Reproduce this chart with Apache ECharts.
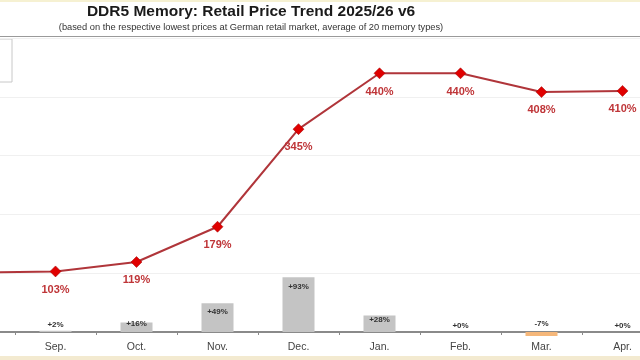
<!DOCTYPE html>
<html>
<head>
<meta charset="utf-8">
<script src="https://cdn.jsdelivr.net/npm/echarts@6/dist/echarts.min.js"></script>
<style>
html,body{margin:0;padding:0;background:#fff;}
#c{width:640px;height:360px;}
</style>
</head>
<body>
<div id="c"></div>
<script>
const months = ['Aug.', 'Sep.', 'Oct.', 'Nov.', 'Dec.', 'Jan.', 'Feb.', 'Mar.', 'Apr.'];
const priceIndex = [101, 103, 119, 179, 345, 440, 440, 408, 410];
const monthlyChange = [null, 2, 16, 49, 93, 28, 0, -7, 0];
const yTicks = [0, 100, 200, 300, 400, 500];

const chart = echarts.init(document.getElementById('c'), null, {renderer: 'canvas'});

const barData = monthlyChange.map(function (v) {
  if (v === null) return null;
  let label;
  if (v >= 40) label = {position: 'insideTop', distance: 5};
  else if (v >= 20) label = {position: 'insideTop', distance: 0};
  else if (v >= 10) label = {position: 'insideTop', distance: -3};
  else if (v < 0) label = {position: 'insideBottom', distance: 8};
  else label = {position: 'top', distance: 2};
  return {
    value: v,
    itemStyle: {color: v < 0 ? '#f5b77a' : '#c4c4c4'},
    label: label
  };
});

chart.setOption({
  animation: false,
  backgroundColor: '#ffffff',
  title: [{
    text: 'DDR5 Memory: Retail Price Trend 2025/26 v6',
    left: 246, top: -1, textAlign: 'center',
    textStyle: {fontFamily: 'Liberation Sans', fontSize: 15.5, fontWeight: 'bold', color: '#1a1a1a'}
  }, {
    text: '(based on the respective lowest prices at German retail market, average of 20 memory types)',
    left: 246, top: 17.5, textAlign: 'center',
    textStyle: {fontFamily: 'Liberation Sans', fontSize: 9.3, fontWeight: 'normal', color: '#333'}
  }],
  graphic: [
    {type: 'rect', shape: {x: 0, y: 0, width: 640, height: 2}, style: {fill: '#f6f1d2'}, silent: true},
    {type: 'rect', shape: {x: 0, y: 356, width: 640, height: 4}, style: {fill: '#f3ead0'}, silent: true},
    {type: 'line', shape: {x1: 0, y1: 36.5, x2: 640, y2: 36.5}, style: {stroke: '#9a9a9a', lineWidth: 1.2}, silent: true},
    {type: 'rect', shape: {x: -60, y: 39, width: 72, height: 43}, style: {fill: '#fff', stroke: '#c8c8c8', lineWidth: 1}, silent: true}
  ],
  grid: {left: -66, width: 729, top: 38, bottom: 28, containLabel: false, outerBoundsMode: 'none'},
  xAxis: {
    type: 'category',
    data: months,
    boundaryGap: true,
    axisLine: {lineStyle: {color: '#8a8a8a', width: 2}},
    axisTick: {show: true, length: 3, lineStyle: {color: '#8a8a8a'}},
    axisLabel: {fontFamily: 'Liberation Sans', fontSize: 10.5, color: '#444', margin: 10}
  },
  yAxis: {
    type: 'value',
    min: yTicks[0], max: yTicks[yTicks.length - 1], interval: 100,
    axisLabel: {show: false},
    axisLine: {show: false},
    axisTick: {show: false},
    splitLine: {lineStyle: {color: '#f0f0f0', width: 1}}
  },
  series: [{
    type: 'bar',
    data: barData,
    barWidth: 32,
    clip: false,
    z: 2,
    label: {
      show: true,
      formatter: function (p) { return (p.value >= 0 ? '+' : '') + p.value + '%'; },
      fontFamily: 'Liberation Sans', fontSize: 8, fontWeight: 'bold', color: '#333'
    }
  }, {
    type: 'line',
    data: priceIndex,
    z: 3,
    clip: false,
    symbol: 'diamond',
    symbolSize: 11,
    itemStyle: {color: '#e00000', borderColor: '#a00000', borderWidth: 0.5},
    lineStyle: {color: '#b0353a', width: 2},
    label: {
      show: true, position: 'bottom', distance: 7,
      formatter: '{c}%',
      fontFamily: 'Liberation Sans', fontSize: 11, fontWeight: 'bold', color: '#bf3538'
    }
  }]
});
</script>
</body>
</html>
